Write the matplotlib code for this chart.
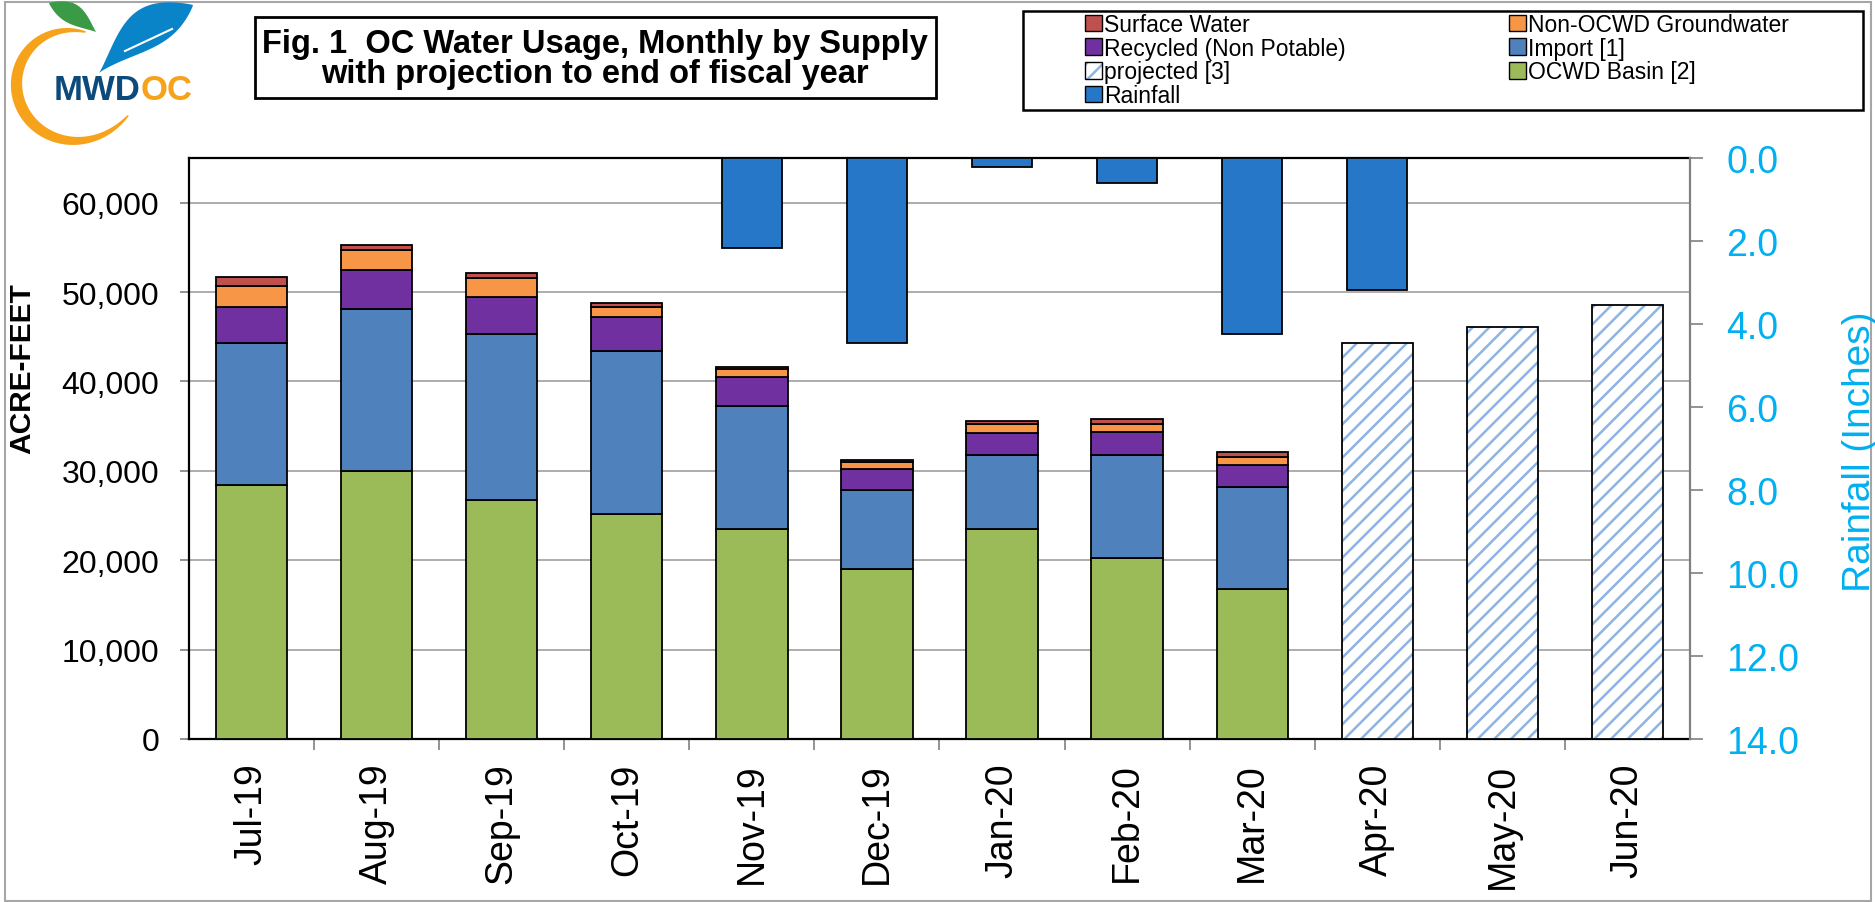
#!/usr/bin/env python3
"""OC water usage by supply, stacked monthly bars with projected months and rainfall."""

import matplotlib
matplotlib.use("Agg")
import matplotlib.pyplot as plt
import matplotlib.patches as mpatches
from matplotlib import font_manager as fm
from matplotlib.ticker import FuncFormatter
import numpy as np

# ---- data ----
months = ["Jul-19", "Aug-19", "Sep-19", "Oct-19", "Nov-19", "Dec-19",
          "Jan-20", "Feb-20", "Mar-20", "Apr-20", "May-20", "Jun-20"]
actual_months = months[:9]
projected_months = months[9:]

ocwd_basin = [28400, 29950, 26700, 25200, 23500, 19050, 23450, 20250, 16800]
imports = [15950, 18200, 18650, 18250, 13700, 8850, 8350, 11500, 11350]
recycled = [3950, 4300, 4050, 3750, 3350, 2300, 2450, 2550, 2450]
non_ocwd_gw = [2350, 2250, 2200, 1100, 800, 750, 950, 950, 950]
surface_water = [1050, 550, 500, 450, 300, 300, 350, 500, 600]
projected = [44300, 46100, 48500]

rain_months = ["Nov-19", "Dec-19", "Jan-20", "Feb-20", "Mar-20", "Apr-20"]
rainfall = [2.18, 4.46, 0.22, 0.61, 4.24, 3.17]

# ---- style ----
C_SURF = "#C0504D"
C_NONOCWD = "#F79646"
C_RECY = "#7030A0"
C_IMP = "#4F81BD"
C_BASIN = "#9BBB59"
C_PROJ = "#8DB4E2"
C_RAIN = "#2677C7"
C_CYAN = "#00B0F0"

names = {f.name for f in fm.fontManager.ttflist}
NARROW = "Liberation Sans Narrow" if "Liberation Sans Narrow" in names else "Liberation Sans"

plt.rcParams.update({
    "font.family": ["Liberation Sans", "DejaVu Sans"],
    "hatch.linewidth": 1.8,
})

W, H = 1875, 903
fig = plt.figure(figsize=(W / 100, H / 100), dpi=100)
fig.patch.set_facecolor("white")

# decoration layer in pixel coordinates
deco = fig.add_axes([0, 0, 1, 1])
deco.set_xlim(0, W)
deco.set_ylim(H, 0)
deco.axis("off")

deco.add_patch(mpatches.Rectangle((5, 3), W - 9, H - 4, fill=False,
                                  ec="#A6A6A6", lw=1.5))

# logo: orange crescent (slightly opening spiral)
t = np.linspace(np.radians(70), np.radians(332), 150)
u = (t - t[0]) / (t[-1] - t[0])
cx, cy = 67, 84
r = 55 + 15 * u ** 3
thick = 1.5 + 10 * np.sin(np.pi * u) ** 0.8
outer = np.c_[cx + r * np.cos(t), cy - r * np.sin(t)]
inner = np.c_[cx + (r - thick) * np.cos(t), cy - (r - thick) * np.sin(t)]
deco.add_patch(mpatches.Polygon(np.r_[outer, inner[::-1]], closed=True,
                                fc="#F7A21B", ec="none"))


def leaf(base, tip, width, bend, color, skew=1.0):
    base, tip = np.array(base, float), np.array(tip, float)
    s = np.linspace(0, 1, 80)
    d = tip - base
    n = np.array([-d[1], d[0]]) / np.hypot(*d)
    spine = base + np.outer(s, d) + np.outer(bend * np.sin(np.pi * s), n)
    half = width * np.sin(np.pi * s ** skew) ** 0.9
    top = spine + np.outer(half, n)
    bot = spine - np.outer(half, n)
    deco.add_patch(mpatches.Polygon(np.r_[top, bot[::-1]], closed=True,
                                    fc=color, ec="none"))


leaf((96, 33), (49, 4), 10, 3, "#3A9A45", skew=1.2)
leaf((99, 74), (193, 6), 20, -8, "#0A84C8", skew=1.35)
deco.plot([125, 172], [52, 30], color="white", lw=1.5)
deco.text(141, 90, "MWD", ha="right", va="center", fontsize=25,
          fontweight="bold", color="#0B4A7A")
deco.text(141, 90, "OC", ha="left", va="center", fontsize=25,
          fontweight="bold", color="#F7A21B")

# title box
deco.add_patch(mpatches.Rectangle((255, 18), 681, 81, fill=False, ec="black", lw=2))
deco.text(595, 44, "Fig. 1  OC Water Usage, Monthly by Supply", ha="center",
          va="center", fontsize=23.5, fontweight="bold", family=NARROW)
deco.text(595, 74, "with projection to end of fiscal year", ha="center",
          va="center", fontsize=23.5, fontweight="bold", family=NARROW)

# legend box
deco.add_patch(mpatches.Rectangle((1023, 12), 1863 - 1023, 111 - 12, fill=False,
                                  ec="black", lw=1.8))

# ---- main chart ----
ax = fig.add_axes([189 / W, 1 - 740 / H, (1690 - 189) / W, (740 - 159) / H])
x_all = np.arange(len(months))
x_act = np.array([months.index(m) for m in actual_months])
x_proj = np.array([months.index(m) for m in projected_months])
x_rain = np.array([months.index(m) for m in rain_months])

bw = 0.57
bottom = np.zeros(len(actual_months))
stack = [(ocwd_basin, C_BASIN), (imports, C_IMP), (recycled, C_RECY),
         (non_ocwd_gw, C_NONOCWD), (surface_water, C_SURF)]
for vals, col in stack:
    ax.bar(x_act, vals, bw, bottom=bottom, color=col, edgecolor="black", lw=1.3, zorder=3)
    bottom += np.array(vals)

ax.bar(x_proj, projected, bw, color="white", edgecolor=C_PROJ, hatch="//", lw=0, zorder=3)
ax.bar(x_proj, projected, bw, fill=False, edgecolor="black", lw=1.3, zorder=4)

ax.set_xlim(-0.5, len(months) - 0.5)
ax.set_ylim(0, 65000)
ax.set_yticks(np.arange(0, 60001, 10000))
ax.yaxis.set_major_formatter(FuncFormatter(lambda v, p: f"{v:,.0f}"))
ax.set_axisbelow(True)
ax.yaxis.grid(True, color="#A0A0A0", lw=1.2)
ax.set_xticks(x_all)
ax.set_xticklabels(months, rotation=90, fontsize=27)
ax.set_xticks(np.arange(0.5, len(months) - 0.5), minor=True)
ax.tick_params(axis="x", which="major", length=0, pad=17)
ax.tick_params(axis="x", which="minor", length=8, width=1.2, color="#808080")
ax.tick_params(axis="y", length=6.5, width=1.2, color="#808080", labelsize=23, pad=15)
for s in ("left", "top", "bottom"):
    ax.spines[s].set_color("black")
    ax.spines[s].set_linewidth(1.6)
ax.spines["right"].set_visible(False)
ax.set_ylabel("ACRE-FEET", fontsize=21.5, fontweight="bold")
ax.yaxis.set_label_coords(-0.102, 0.64)

ax2 = ax.twinx()
ax2.bar(x_rain, rainfall, 0.48, color=C_RAIN, edgecolor="black", lw=1.3, zorder=3)
ax2.set_ylim(14, 0)
ax2.set_yticks(np.arange(0, 14.1, 2))
ax2.yaxis.set_major_formatter(FuncFormatter(lambda v, p: f"{v:.1f}"))
ax2.tick_params(axis="y", length=9, width=1.2, color="#808080", labelsize=27,
                labelcolor=C_CYAN, pad=17)
for s in ("left", "top", "bottom"):
    ax2.spines[s].set_visible(False)
ax2.spines["right"].set_color("#808080")
ax2.spines["right"].set_linewidth(1.6)
ax2.set_ylabel("Rainfall (Inches)", fontsize=28, color=C_CYAN, rotation=90)
ax2.yaxis.set_label_coords(1.101, 0.496)

# ---- legend ----
handles = [
    mpatches.Patch(fc=C_SURF, ec="black", lw=1),
    mpatches.Patch(fc=C_RECY, ec="black", lw=1),
    (mpatches.Patch(fc="white", ec=C_PROJ, hatch="//", lw=0),
     mpatches.Patch(fill=False, ec="black", lw=1)),
    mpatches.Patch(fc=C_RAIN, ec="black", lw=1),
    mpatches.Patch(fc=C_NONOCWD, ec="black", lw=1),
    mpatches.Patch(fc=C_IMP, ec="black", lw=1),
    mpatches.Patch(fc=C_BASIN, ec="black", lw=1),
]
labels = ["Surface Water", "Recycled (Non Potable)", "projected [3]", "Rainfall",
          "Non-OCWD Groundwater", "Import [1]", "OCWD Basin [2]"]
leg = fig.legend(handles, labels, ncol=2, loc="upper left",
                 bbox_to_anchor=(1085 / W, 1 - 14 / H),
                 prop={"size": 16.5}, frameon=False,
                 handlelength=0.75, handleheight=0.75,
                 handletextpad=0.1, labelspacing=0.03, columnspacing=7.1,
                 borderpad=0, borderaxespad=0)
leg.set_zorder(10)

fig.savefig("out.png", dpi=100, facecolor="white")
